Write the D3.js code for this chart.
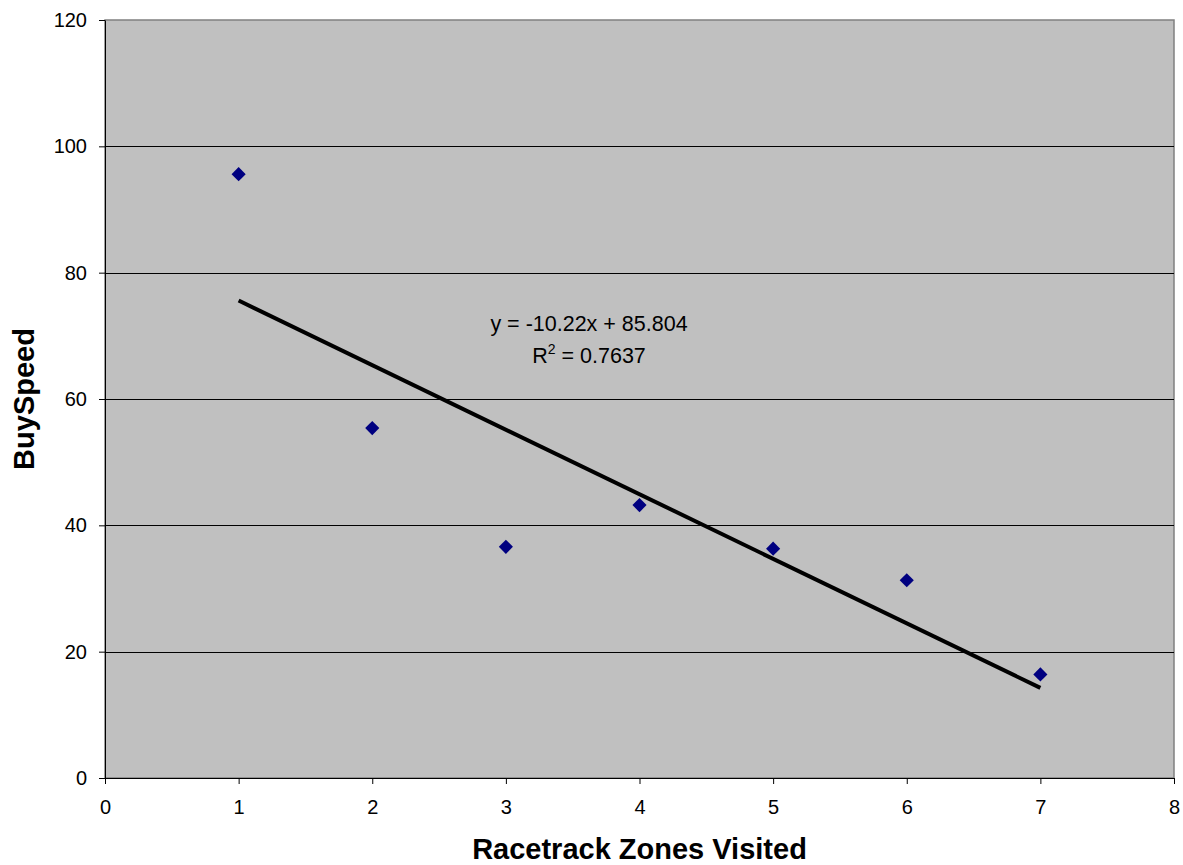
<!DOCTYPE html>
<html>
<head>
<meta charset="utf-8">
<script src="https://cdn.jsdelivr.net/npm/d3@7"></script>
<style>
  body { margin: 0; background: #fff; }
  svg { display: block; font-family: "Liberation Sans", Arial, sans-serif; }
  .axis text { font-size: 20px; fill: #000; }
  .axis path, .axis line { stroke: #000; }
  .title { font-size: 29px; font-weight: bold; }
</style>
</head>
<body>
<div id="container"></div>
<script>
var zones = [1, 2, 3, 4, 5, 6, 7];
var buySpeed = [95.6, 55.4, 36.6, 43.2, 36.3, 31.3, 16.4];
var slope = -10.22, intercept = 85.804;
var xTicks = [0, 1, 2, 3, 4, 5, 6, 7, 8];
var yTicks = [0, 20, 40, 60, 80, 100, 120];

var W = 1183, H = 865;
var plotLeft = 105, plotTop = 20, plotRight = 1174, plotBottom = 778;

var svg = d3.select("#container").append("svg")
  .attr("width", W).attr("height", H);

var x = d3.scaleLinear().domain([0, 8]).range([plotLeft, plotRight]);
var y = d3.scaleLinear().domain([0, 120]).range([plotBottom, plotTop]);

// plot area
svg.append("rect")
  .attr("x", plotLeft).attr("y", plotTop)
  .attr("width", plotRight - plotLeft).attr("height", plotBottom - plotTop)
  .attr("fill", "#c0c0c0")
  .attr("stroke", "#808080").attr("stroke-width", 1.5);

// gridlines
svg.append("g").selectAll("line")
  .data(yTicks.filter(function(d){ return d > 0 && d < 120; }))
  .enter().append("line")
    .attr("x1", plotLeft).attr("x2", plotRight)
    .attr("y1", function(d){ return Math.round(y(d)) + 0.5; })
    .attr("y2", function(d){ return Math.round(y(d)) + 0.5; })
    .attr("stroke", "#000").attr("stroke-width", 1);

// axes
var yAxis = d3.axisLeft(y).tickValues(yTicks).tickSize(6).tickSizeOuter(0).tickPadding(12);
var xAxis = d3.axisBottom(x).tickValues(xTicks).tickSize(6).tickSizeOuter(0).tickPadding(16);

svg.append("g").attr("class", "axis")
  .attr("transform", "translate(" + plotLeft + ",0)")
  .call(yAxis);

svg.append("g").attr("class", "axis")
  .attr("transform", "translate(0," + plotBottom + ")")
  .call(xAxis);

// trendline
var line = d3.line()
  .x(function(d){ return x(d); })
  .y(function(d){ return y(slope * d + intercept); });
svg.append("path")
  .datum([zones[0], zones[zones.length - 1]])
  .attr("d", line)
  .attr("fill", "none")
  .attr("stroke", "#000")
  .attr("stroke-width", 4);

// points
var diamond = d3.symbol().type(d3.symbolDiamond2).size(128);
svg.append("g").selectAll("path")
  .data(zones)
  .enter().append("path")
    .attr("d", diamond)
    .attr("transform", function(d, i){ return "translate(" + x(d) + "," + y(buySpeed[i]) + ")"; })
    .attr("fill", "#000080");

// equation
svg.append("text")
  .attr("x", 589).attr("y", 331)
  .attr("text-anchor", "middle")
  .style("font-size", "21.5px")
  .text("y = -10.22x + 85.804");
var r2 = svg.append("text")
  .attr("x", 589).attr("y", 363)
  .attr("text-anchor", "middle")
  .style("font-size", "21.5px");
r2.append("tspan").text("R");
r2.append("tspan").attr("dy", -9).style("font-size", "14px").text("2");
r2.append("tspan").attr("dy", 9).text(" = 0.7637");

// titles
svg.append("text").attr("class", "title")
  .attr("x", (plotLeft + plotRight) / 2).attr("y", 859)
  .attr("text-anchor", "middle")
  .text("Racetrack Zones Visited");

svg.append("text").attr("class", "title")
  .attr("transform", "translate(34," + (plotTop + plotBottom) / 2 + ") rotate(-90)")
  .attr("text-anchor", "middle")
  .text("BuySpeed");
</script>
</body>
</html>
